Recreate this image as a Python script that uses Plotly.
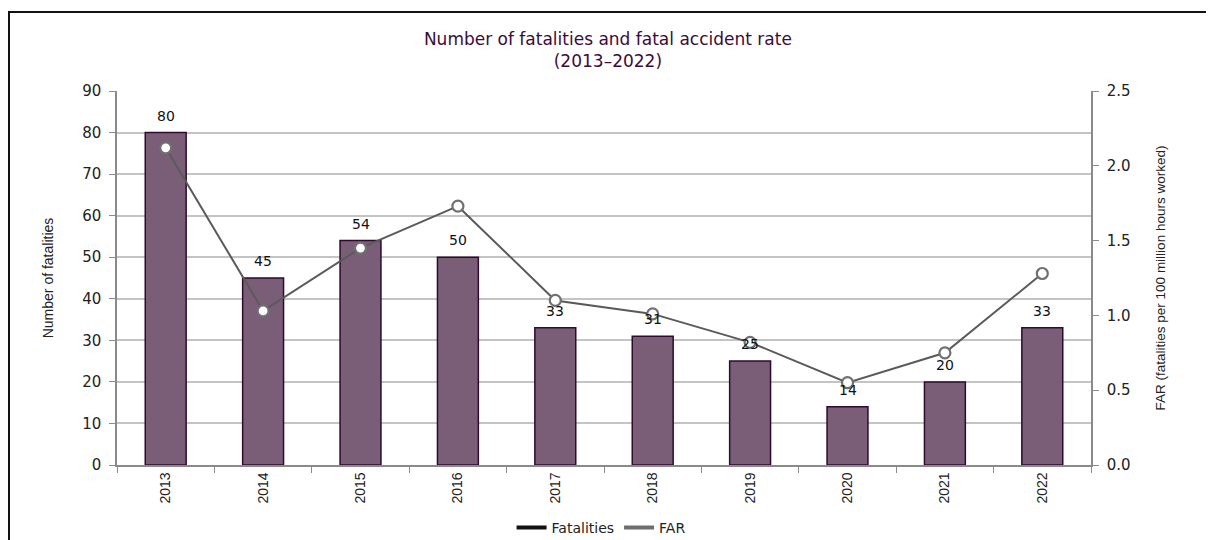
import plotly.graph_objects as go

years = ["2013", "2014", "2015", "2016", "2017", "2018", "2019", "2020", "2021", "2022"]
fatalities = [80, 45, 54, 50, 33, 31, 25, 14, 20, 33]
far = [2.12, 1.03, 1.45, 1.73, 1.10, 1.01, 0.82, 0.55, 0.75, 1.28]

FONT = "Liberation Sans, Arial, sans-serif"
WIDE = "DejaVu Sans, Verdana, sans-serif"

fig = go.Figure()

fig.add_trace(go.Bar(
    x=years, y=fatalities, name="Fatalities", showlegend=False,
    marker=dict(color="#7a5e78", line=dict(color="#2e0a2c", width=1.5)),
    yaxis="y", hoverinfo="x+y",
))

fig.add_trace(go.Scatter(
    x=years, y=far, name="FAR", showlegend=False, yaxis="y2",
    mode="lines+markers",
    line=dict(color="#5a5a5a", width=2),
    marker=dict(size=11, color="white", line=dict(color="#707070", width=2.2)),
))

# legend entries
fig.add_trace(go.Scatter(x=[years[0]], y=[None], mode="lines", name="Fatalities",
                         line=dict(color="#111111", width=4), hoverinfo="skip"))
fig.add_trace(go.Scatter(x=[years[0]], y=[None], mode="lines", name="FAR",
                         line=dict(color="#6e6e6e", width=4), hoverinfo="skip"))

for i, v in enumerate(fatalities):
    fig.add_annotation(x=i, y=v, xref="x", yref="y", text=str(v), showarrow=False,
                       yshift=17, font=dict(family=WIDE, size=14, color="#111111"))

fig.update_layout(
    width=1214, height=540,
    margin=dict(l=109, r=131, t=83, b=83, autoexpand=False),
    paper_bgcolor="white", plot_bgcolor="white",
    font=dict(family=FONT, size=13, color="#222222"),
    title=dict(text="Number of fatalities and fatal accident rate<br>(2013\u20132022)",
               x=0.504, xref="paper", xanchor="center", y=0.931, yref="container", yanchor="middle",
               font=dict(family=WIDE, size=17, color="#3b0b3a")),
    bargap=0.58,
    showlegend=True,
    legend=dict(orientation="h", x=0.497, xanchor="center", y=-0.168, yanchor="middle",
                font=dict(family=WIDE, size=14, color="#222222"),
                itemwidth=30, tracegroupgap=0, bgcolor="rgba(0,0,0,0)"),
    xaxis=dict(
        type="category", categoryorder="array", categoryarray=years,
        range=[-0.5, len(years) - 0.5], autorange=False,
        tickangle=-90, showgrid=False, automargin=False,
        showline=True, linecolor="#8a8a8a", linewidth=1.5,
        ticks="outside", tickson="boundaries", ticklen=6, tickcolor="#8a8a8a",
        tickfont=dict(family=FONT, size=14, color="#222222"),
    ),
    yaxis=dict(
        range=[0, 90], dtick=10, showgrid=True, gridcolor="#c4c4c4", gridwidth=1.5,
        showline=True, linecolor="#8a8a8a", linewidth=1.5, automargin=False,
        ticks="outside", ticklen=6, tickcolor="#8a8a8a", ticklabelstandoff=5,
        tickfont=dict(family=WIDE, size=15, color="#222222"),
        title=dict(text="Number of fatalities", standoff=25,
                   font=dict(family=FONT, size=14, color="#222222")),
        zeroline=False,
    ),
    yaxis2=dict(
        range=[0, 2.5], dtick=0.5, tickformat=".1f", overlaying="y", side="right",
        showgrid=False, showline=True, linecolor="#8a8a8a", linewidth=1.5, automargin=False,
        ticks="outside", ticklen=6, tickcolor="#8a8a8a", ticklabelstandoff=5,
        tickfont=dict(family=WIDE, size=15, color="#222222"),
        title=dict(text="FAR (fatalities per 100 million hours worked)", standoff=26,
                   font=dict(family=FONT, size=13.5, color="#222222")),
        zeroline=False,
    ),
)

fig.add_shape(type="rect", xref="paper", yref="paper",
              x0=-0.1109, x1=1.2, y0=-0.3, y1=1.211,
              line=dict(color="#111111", width=2), fillcolor="rgba(0,0,0,0)", layer="below")

fig.write_html("out.html")
